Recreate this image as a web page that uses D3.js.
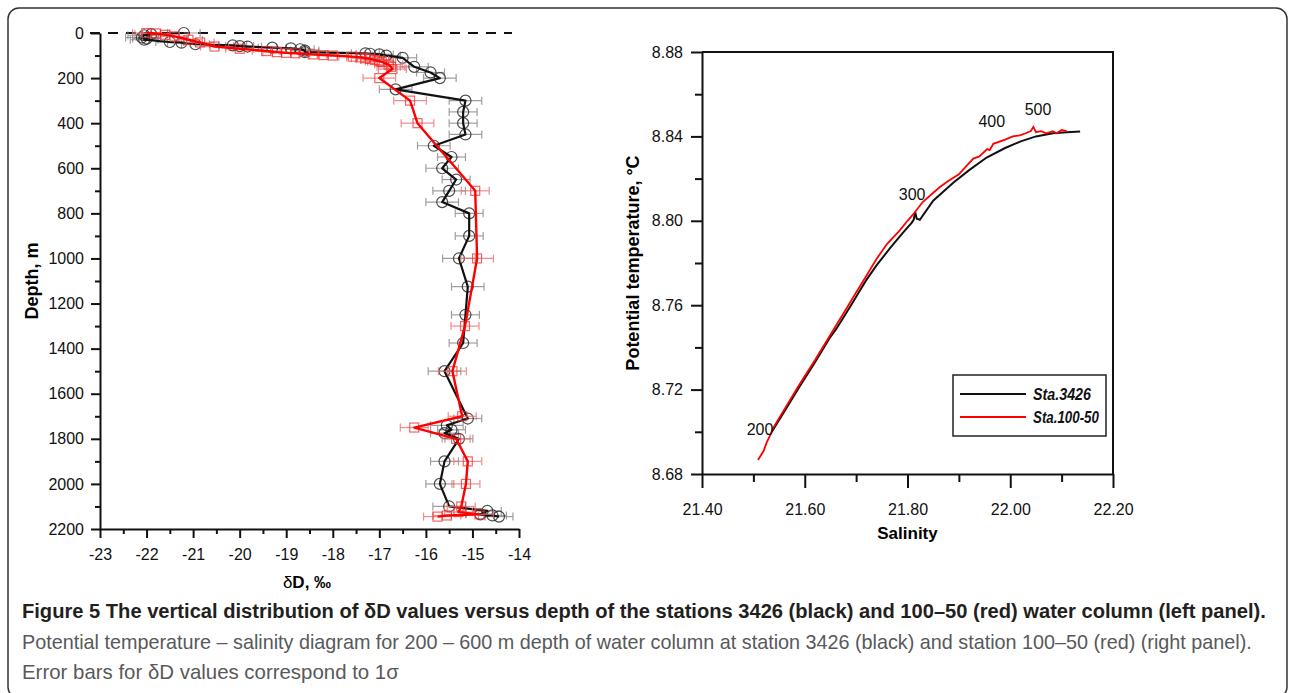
<!DOCTYPE html>
<html>
<head>
<meta charset="utf-8">
<script src="https://cdn.jsdelivr.net/npm/d3@7"></script>
<style>
  body { margin: 0; background: #fff; }
  svg { display: block; }
  .tick text { font-family: "Liberation Sans Narrow", "Liberation Sans", Arial, sans-serif; font-size: 16px; fill: #111; }
  .tick line, .domain { stroke: #111; }
</style>
</head>
<body>
<div id="chart-area"></div>
<script>
// ---- data: left panel (depth, m / deltaD, permil / 1 sigma) ----
var blackDepth = [0, 5, 10, 20, 25, 30, 40, 43, 50, 55, 58, 60, 65, 68, 72, 78, 85, 90, 92, 95, 100, 110, 150, 175, 200,
  250, 300, 350, 400, 450, 500, 550, 600, 650, 700, 750, 800, 900, 1000, 1125, 1250, 1375, 1500,
  1710, 1740, 1760, 1775, 1800, 1900, 2000, 2100, 2120, 2135, 2140, 2145];
var blackDD = [-21.2, -21.9, -22.05, -22.1, -22.0, -22.05, -21.5, -21.25, -20.95, -20.15, -20.0, -19.83, -19.3, -18.9, -18.7, -18.6, -18.6, -17.3, -17.2, -17.0, -16.85, -16.5, -16.25, -15.9, -15.7,
  -16.65, -15.15, -15.2, -15.2, -15.15, -15.83, -15.45, -15.65, -15.35, -15.5, -15.65, -15.07, -15.07, -15.29, -15.1, -15.15, -15.2, -15.6,
  -15.1, -15.55, -15.45, -15.6, -15.29, -15.6, -15.7, -15.5, -14.68, -14.83, -14.57, -14.43];
var blackErr = [0.35, 0.35, 0.35, 0.35, 0.3, 0.3, 0.3, 0.3, 0.3, 0.3, 0.3, 0.3, 0.3, 0.3, 0.3, 0.3, 0.3, 0.3, 0.3, 0.3, 0.3, 0.3, 0.3, 0.3, 0.35,
  0.35, 0.35, 0.3, 0.3, 0.35, 0.35, 0.3, 0.35, 0.3, 0.35, 0.35, 0.3, 0.3, 0.35, 0.35, 0.3, 0.3, 0.35,
  0.3, 0.35, 0.3, 0.3, 0.3, 0.3, 0.3, 0.35, 0.3, 0.3, 0.3, 0.3];

var redDepth = [0, 2, 8, 15, 30, 42, 60, 70, 80, 85, 88, 90, 95, 98, 100, 105, 108, 112, 115, 120, 125, 128, 140, 150, 160, 200,
  300, 400, 700, 1000, 1300, 1500, 1700, 1750, 1800, 1900, 2000, 2100, 2125, 2135, 2140, 2145];
var redDD = [-22.0, -21.8, -21.6, -21.4, -21.1, -20.85, -20.54, -20.0, -19.43, -19.2, -19.0, -18.8, -18.43, -18.2, -18.0, -17.57, -17.4, -17.3, -17.2, -17.1, -17.0, -16.95, -16.8, -16.75, -16.72, -17.0,
  -16.34, -16.18, -14.94, -14.9, -15.16, -15.43, -15.22, -16.25, -15.35, -15.1, -15.14, -15.24, -15.3, -14.85, -15.55, -15.75];
var redErr = [0.3, 0.3, 0.3, 0.3, 0.3, 0.3, 0.3, 0.3, 0.3, 0.3, 0.3, 0.3, 0.3, 0.3, 0.3, 0.3, 0.3, 0.3, 0.3, 0.3, 0.3, 0.3, 0.3, 0.3, 0.3, 0.35,
  0.35, 0.35, 0.3, 0.35, 0.3, 0.3, 0.3, 0.3, 0.3, 0.3, 0.3, 0.3, 0.3, 0.3, 0.3, 0.3];

// ---- data: right panel (salinity / potential temperature) ----
var blackSal = [21.536, 21.56, 21.59, 21.62, 21.65, 21.662, 21.694, 21.705, 21.72, 21.74, 21.766, 21.79, 21.808, 21.812, 21.815, 21.818, 21.824,
  21.85, 21.889, 21.92, 21.954, 21.99, 22.019, 22.05, 22.083, 22.11, 22.136];
var blackTemp = [8.700, 8.7095, 8.7215, 8.733, 8.745, 8.749, 8.7615, 8.766, 8.772, 8.779, 8.787, 8.794, 8.799, 8.8005, 8.804, 8.801, 8.8005,
  8.8095, 8.818, 8.824, 8.830, 8.8345, 8.8375, 8.840, 8.8415, 8.842, 8.8423];

var redSal = [21.509, 21.52, 21.526, 21.533, 21.539, 21.56, 21.59, 21.62, 21.65, 21.68, 21.70, 21.72, 21.74, 21.76, 21.785, 21.80, 21.811,
  21.83, 21.863, 21.88, 21.90, 21.915, 21.928, 21.94, 21.955, 21.96, 21.967, 21.99, 22.005, 22.019, 22.03, 22.04, 22.045, 22.05,
  22.06, 22.07, 22.083, 22.09, 22.10, 22.11];
var redTemp = [8.6866, 8.691, 8.695, 8.6985, 8.702, 8.7105, 8.7225, 8.734, 8.746, 8.758, 8.766, 8.774, 8.782, 8.789, 8.7955, 8.800, 8.803,
  8.809, 8.816, 8.819, 8.822, 8.826, 8.8295, 8.8305, 8.834, 8.8335, 8.8365, 8.8385, 8.840, 8.8405, 8.8415, 8.8425, 8.8445, 8.842,
  8.8425, 8.8415, 8.8425, 8.8415, 8.843, 8.8425];

var depthLabels = [
  { text: "200", s: 21.513, t: 8.6985 },
  { text: "300", s: 21.809, t: 8.8099 },
  { text: "400", s: 21.964, t: 8.8445 },
  { text: "500", s: 22.054, t: 8.8501 }
];
var legendNames = ["Sta.3426", "Sta.100-50"];
var captionLines = [
  "Figure 5 The vertical distribution of \u03b4D values versus depth of the stations 3426 (black) and 100\u201350 (red) water column (left panel).",
  "Potential temperature \u2013 salinity diagram for 200 \u2013 600 m depth of water column at station 3426 (black) and station 100\u201350 (red) (right panel).",
  "Error bars for \u03b4D values correspond to 1\u03c3"
];

var plotFont = "'Liberation Sans', Arial, sans-serif";
var narrowFont = "'Liberation Sans Narrow', 'Liberation Sans', Arial, sans-serif";

function zip(a, b, e) {
  return a.map(function(d, i) { return { y: d, x: b[i], e: e ? e[i] : 0 }; });
}

// squeeze a text horizontally so it fills the given width
function fitWidth(sel, x, y, w) {
  var len = sel.node().getComputedTextLength();
  var k = len > 0 ? w / len : 1;
  sel.attr("x", 0).attr("y", 0)
    .attr("transform", "translate(" + x + "," + y + ") scale(" + k + ",1)");
}

var svg = d3.select("#chart-area")
  .append("svg")
  .attr("width", 1290)
  .attr("height", 693);

// outer rounded frame
svg.append("rect")
  .attr("x", 8).attr("y", 8)
  .attr("width", 1279).attr("height", 690)
  .attr("rx", 11)
  .attr("fill", "none")
  .attr("stroke", "#333")
  .attr("stroke-width", 1.5);

// ================= Left panel =================
var lx = d3.scaleLinear().domain([-23, -14]).range([100, 519]);
var ly = d3.scaleLinear().domain([0, 2200]).range([33, 529]);

var left = svg.append("g");

// minor ticks
left.append("g")
  .attr("transform", "translate(0,529)")
  .call(d3.axisBottom(lx).tickValues(d3.range(-22.5, -14, 1)).tickSize(5).tickFormat(""))
  .call(function(g) { g.select(".domain").remove(); })
  .selectAll("line").attr("stroke-width", 2);
left.append("g")
  .attr("transform", "translate(100,0)")
  .call(d3.axisLeft(ly).tickValues(d3.range(100, 2200, 200)).tickSize(5).tickFormat(""))
  .call(function(g) { g.select(".domain").remove(); })
  .selectAll("line").attr("stroke-width", 2);

// major axes
var lxAxis = left.append("g")
  .attr("transform", "translate(0,529)")
  .call(d3.axisBottom(lx).tickValues(d3.range(-23, -13, 1)).tickSize(9).tickSizeOuter(0).tickPadding(11)
    .tickFormat(function(d) { return String(d); }));
var lyAxis = left.append("g")
  .attr("transform", "translate(100,0)")
  .call(d3.axisLeft(ly).tickValues(d3.range(0, 2201, 200)).tickSize(9).tickSizeOuter(0).tickPadding(7)
    .tickFormat(function(d) { return String(d); }));
[lxAxis, lyAxis].forEach(function(a) {
  a.selectAll("line").attr("stroke-width", 2);
  a.select(".domain").attr("stroke-width", 2);
});

// dashed surface line
left.append("line")
  .attr("x1", 90).attr("x2", 512)
  .attr("y1", ly(0)).attr("y2", ly(0))
  .attr("stroke", "#111")
  .attr("stroke-width", 2)
  .attr("stroke-dasharray", "10,8");

// axis titles
left.append("text")
  .attr("transform", "translate(38," + ((33 + 529) / 2) + ") rotate(-90)")
  .attr("text-anchor", "middle")
  .attr("font-family", plotFont)
  .attr("font-weight", "bold")
  .attr("font-size", "18px")
  .text("Depth, m");
left.append("text")
  .attr("x", 307).attr("y", 588)
  .attr("text-anchor", "middle")
  .attr("font-family", plotFont)
  .attr("font-size", "17px")
  .html("\u03b4<tspan font-weight='bold'>D, \u2030</tspan>");

function drawProfile(data, opts) {
  var g = left.append("g");
  // error bars
  var eb = g.selectAll(".eb").data(data).enter().append("g")
    .attr("stroke", opts.errColor).attr("stroke-width", 1.2).attr("opacity", 0.8);
  eb.append("line")
    .attr("x1", function(d) { return lx(d.x - d.e); })
    .attr("x2", function(d) { return lx(d.x + d.e); })
    .attr("y1", function(d) { return ly(d.y); })
    .attr("y2", function(d) { return ly(d.y); });
  eb.append("line")
    .attr("x1", function(d) { return lx(d.x - d.e); })
    .attr("x2", function(d) { return lx(d.x - d.e); })
    .attr("y1", function(d) { return ly(d.y) - 4; })
    .attr("y2", function(d) { return ly(d.y) + 4; });
  eb.append("line")
    .attr("x1", function(d) { return lx(d.x + d.e); })
    .attr("x2", function(d) { return lx(d.x + d.e); })
    .attr("y1", function(d) { return ly(d.y) - 4; })
    .attr("y2", function(d) { return ly(d.y) + 4; });

  // markers
  if (opts.marker === "circle") {
    g.selectAll("circle").data(data).enter().append("circle")
      .attr("cx", function(d) { return lx(d.x); })
      .attr("cy", function(d) { return ly(d.y); })
      .attr("r", 5.5)
      .attr("fill", "none")
      .attr("stroke", opts.markColor)
      .attr("stroke-width", 1.2)
      .attr("opacity", 0.8);
  } else {
    g.selectAll("rect").data(data).enter().append("rect")
      .attr("x", function(d) { return lx(d.x) - 4.5; })
      .attr("y", function(d) { return ly(d.y) - 4.5; })
      .attr("width", 9).attr("height", 9)
      .attr("fill", "none")
      .attr("stroke", opts.markColor)
      .attr("stroke-width", 1.2)
      .attr("opacity", 0.75);
  }

  // line
  g.append("path")
    .datum(data)
    .attr("fill", "none")
    .attr("stroke", opts.lineColor)
    .attr("stroke-width", opts.lineWidth)
    .attr("stroke-linejoin", "round")
    .attr("d", d3.line().x(function(d) { return lx(d.x); }).y(function(d) { return ly(d.y); }));
}

drawProfile(zip(blackDepth, blackDD, blackErr),
  { marker: "circle", errColor: "#888", markColor: "#222", lineColor: "#111", lineWidth: 2.2 });
drawProfile(zip(redDepth, redDD, redErr),
  { marker: "square", errColor: "#f07070", markColor: "#f03030", lineColor: "#ff0000", lineWidth: 2.4 });

// ================= Right panel =================
var rx = d3.scaleLinear().domain([21.4, 22.2]).range([702, 1113]);
var ry = d3.scaleLinear().domain([8.68, 8.88]).range([474, 52]);

var right = svg.append("g");

right.append("g")
  .attr("transform", "translate(0,474)")
  .call(d3.axisBottom(rx).tickValues(d3.range(21.5, 22.2, 0.2)).tickSize(8).tickFormat(""))
  .call(function(g) { g.select(".domain").remove(); })
  .selectAll("line").attr("stroke-width", 2);
right.append("g")
  .attr("transform", "translate(702,0)")
  .call(d3.axisLeft(ry).tickValues(d3.range(8.70, 8.88, 0.04)).tickSize(7).tickFormat(""))
  .call(function(g) { g.select(".domain").remove(); })
  .selectAll("line").attr("stroke-width", 2);

var rxAxis = right.append("g")
  .attr("transform", "translate(0,474)")
  .call(d3.axisBottom(rx).tickValues([21.4, 21.6, 21.8, 22.0, 22.2]).tickSize(14).tickSizeOuter(0).tickPadding(16).tickFormat(d3.format(".2f")));
var ryAxis = right.append("g")
  .attr("transform", "translate(702,0)")
  .call(d3.axisLeft(ry).tickValues([8.68, 8.72, 8.76, 8.80, 8.84, 8.88]).tickSize(11).tickSizeOuter(0).tickPadding(8).tickFormat(d3.format(".2f")));
[rxAxis, ryAxis].forEach(function(a) {
  a.selectAll("line").attr("stroke-width", 2);
  a.select(".domain").attr("stroke-width", 2);
});

// top and right frame
right.append("path")
  .attr("d", "M702," + ry(8.88) + "H" + rx(22.2) + "V" + ry(8.68))
  .attr("fill", "none")
  .attr("stroke", "#111")
  .attr("stroke-width", 2);

right.append("text")
  .attr("transform", "translate(639," + ((52 + 474) / 2) + ") rotate(-90)")
  .attr("text-anchor", "middle")
  .attr("font-family", plotFont)
  .attr("font-weight", "bold")
  .attr("font-size", "18px")
  .text("Potential temperature, \u00b0C");
right.append("text")
  .attr("x", rx(21.8)).attr("y", 539)
  .attr("text-anchor", "middle")
  .attr("font-family", plotFont)
  .attr("font-weight", "bold")
  .attr("font-size", "17px")
  .text("Salinity");

var tsLine = d3.line().x(function(d) { return rx(d.y); }).y(function(d) { return ry(d.x); });
right.append("path")
  .datum(zip(blackSal, blackTemp))
  .attr("fill", "none").attr("stroke", "#111").attr("stroke-width", 2)
  .attr("d", tsLine);
right.append("path")
  .datum(zip(redSal, redTemp))
  .attr("fill", "none").attr("stroke", "#ff0000").attr("stroke-width", 1.8)
  .attr("d", tsLine);

right.selectAll(".dlab").data(depthLabels).enter().append("text")
  .attr("x", function(d) { return rx(d.s); })
  .attr("y", function(d) { return ry(d.t); })
  .attr("text-anchor", "middle")
  .attr("font-family", narrowFont)
  .attr("font-size", "16px")
  .attr("fill", "#111")
  .text(function(d) { return d.text; });

// legend
var leg = right.append("g");
leg.append("rect")
  .attr("x", 953).attr("y", 375)
  .attr("width", 153).attr("height", 61)
  .attr("fill", "#fff").attr("stroke", "#222").attr("stroke-width", 1.5);
var legColors = ["#111", "#ff0000"];
var legWidths = [58, 66];
legendNames.forEach(function(name, i) {
  var yy = 394 + i * 23;
  leg.append("line")
    .attr("x1", 960).attr("x2", 1026).attr("y1", yy).attr("y2", yy)
    .attr("stroke", legColors[i]).attr("stroke-width", 2);
  var t = leg.append("text")
    .attr("font-family", plotFont)
    .attr("font-size", "16px")
    .attr("font-weight", "bold")
    .attr("font-style", "italic")
    .attr("fill", "#111")
    .text(name);
  fitWidth(t, 1033, yy + 6, legWidths[i]);
});

// ================= Caption =================
var cap = svg.append("g");
var capSpecs = [
  { y: 618, w: 1245, bold: true, color: "#231f20" },
  { y: 649, w: 1231, bold: false, color: "#58595b" },
  { y: 679, w: 377, bold: false, color: "#58595b" }
];
capSpecs.forEach(function(c, i) {
  var t = cap.append("text")
    .attr("font-family", plotFont)
    .attr("font-size", "20px")
    .attr("font-weight", c.bold ? "bold" : "normal")
    .attr("fill", c.color)
    .text(captionLines[i]);
  fitWidth(t, 22, c.y, c.w);
});
</script>
</body>
</html>
